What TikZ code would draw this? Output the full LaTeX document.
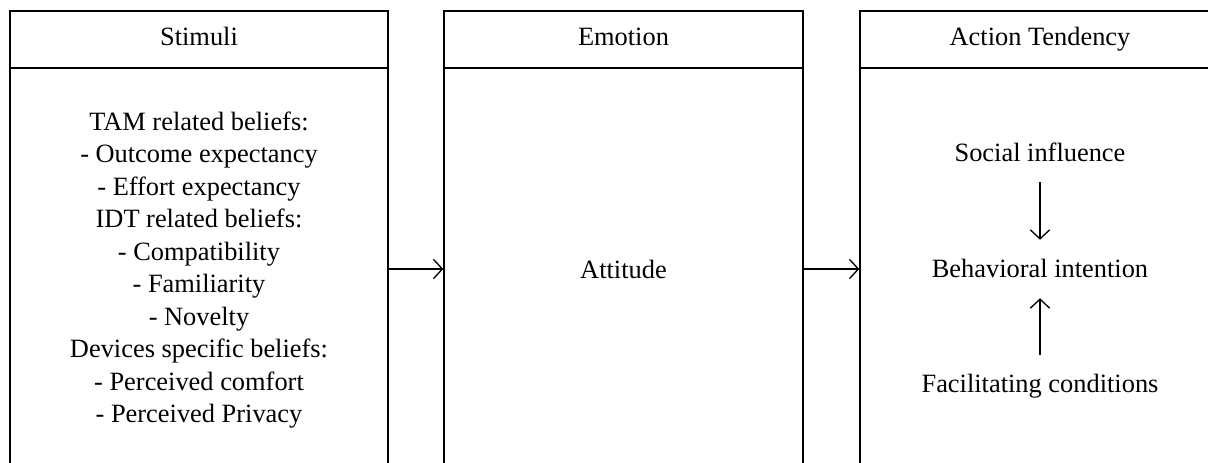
\documentclass[tikz,border=0pt]{standalone}
\usepackage{fontspec}
\setmainfont{Liberation Serif}
\usetikzlibrary{arrows.meta}
\begin{document}
\begin{tikzpicture}[x=0.75pt,y=-0.75pt,
  box/.style={draw,line width=1pt,rectangle,inner sep=0pt},
  txt/.style={font=\fontsize{19.8pt}{24.4pt}\selectfont},
  hdr/.style={box,txt,minimum height=42.75pt,text height=14pt,text depth=4.5pt},
  body/.style={box,minimum height=301.5pt},
  arr/.style={line width=1pt,-{Straight Barb[length=6.75pt,width=14.5pt]}},
  mid/.style={txt,inner sep=0pt,text height=28.5pt,text depth=15pt,anchor=base}]
\useasboundingbox (0,0) rectangle (1208,463);
\clip (0,0) rectangle (1208,463);
% headers
\node[hdr,minimum width=283.5pt] (h1) at (199,39.5) {Stimuli};
\node[hdr,minimum width=269.25pt] (h2) at (623.5,39.5) {Emotion};
\node[hdr,minimum width=270pt] (h3) at (1040,39.5) {Action Tendency};
% bodies
\node[body,minimum width=283.5pt] (b1) at (199,269) {};
\node[body,minimum width=269.25pt] (b2) at (623.5,269) {};
\node[body,minimum width=270pt] (b3) at (1040,269) {};
% contents
\node[txt,align=center] (stim) at (199,270) {TAM related beliefs:\\- Outcome expectancy\\- Effort expectancy\\IDT related beliefs:\\- Compatibility\\- Familiarity\\- Novelty\\Devices specific beliefs:\\- Perceived comfort\\- Perceived Privacy};
\node[txt] (att) at (623.5,269) {Attitude};
\node[mid] (si) at (1040,162) {Social influence};
\node[mid] (bi) at (1040,278) {Behavioral intention};
\node[mid] (fc) at (1040,393) {Facilitating conditions};
% connectors
\draw[arr] (b1) -- (b2);
\draw[arr] (b2) -- (b3);
\draw[arr] (si) -- (bi);
\draw[arr] (fc) -- (bi);
\end{tikzpicture}
\end{document}
